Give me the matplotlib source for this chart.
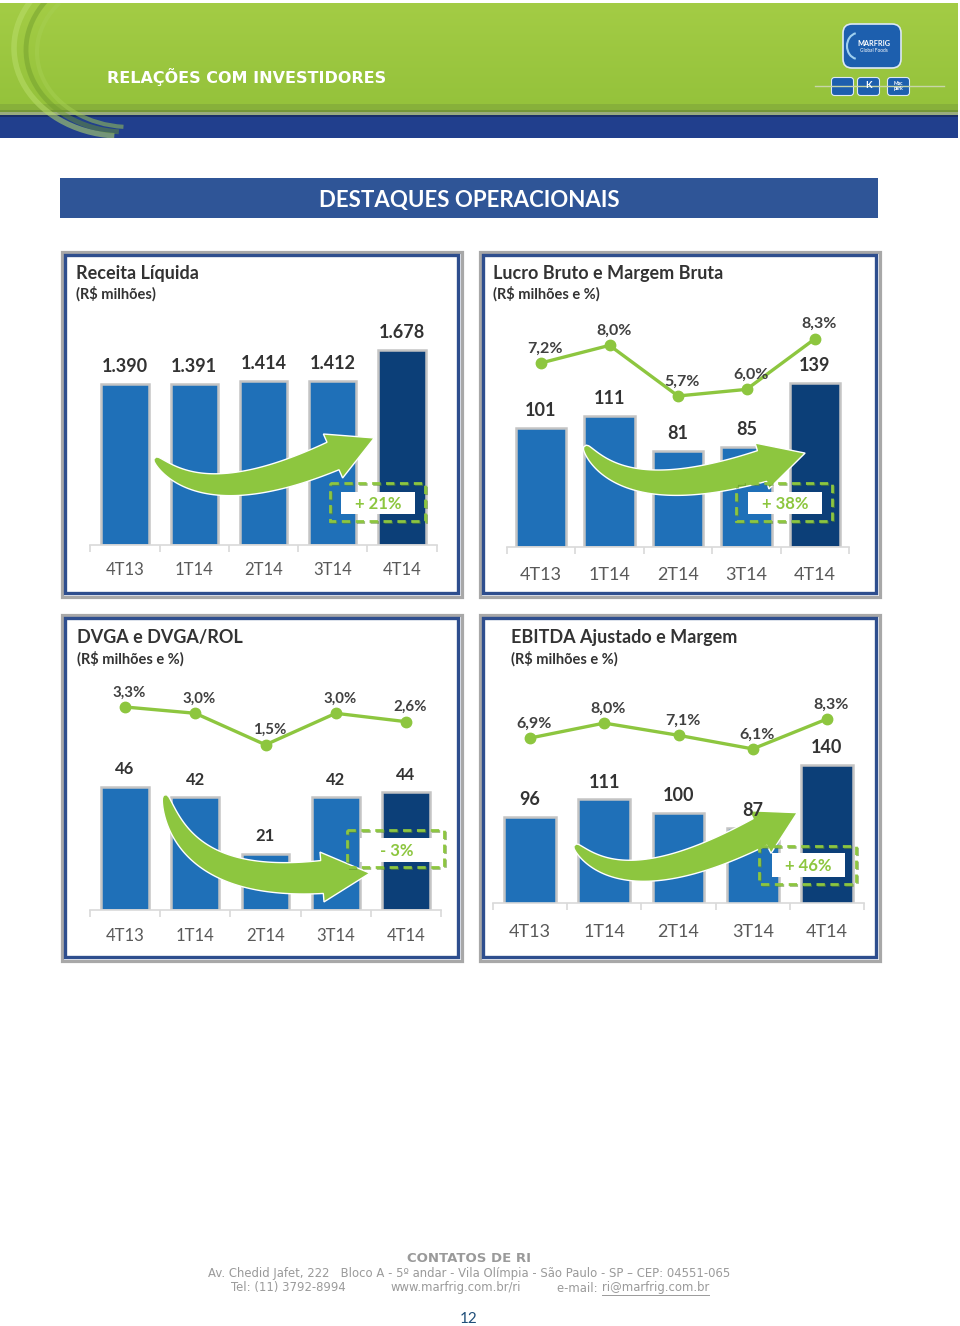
import numpy as np
import matplotlib

matplotlib.use("Agg")
import matplotlib.pyplot as plt
from matplotlib.patches import Rectangle, Polygon, FancyBboxPatch, Arc

plt.rcParams["font.family"] = ["Lato", "DejaVu Sans"]

W, H = 960, 1326

# --- dados ---
quarters = ["4T13", "1T14", "2T14", "3T14", "4T14"]
receita = [1390, 1391, 1414, 1412, 1678]
lucro_bruto = [101, 111, 81, 85, 139]
margem_bruta = [7.2, 8.0, 5.7, 6.0, 8.3]
dvga = [46, 42, 21, 42, 44]
dvga_rol = [3.3, 3.0, 1.5, 3.0, 2.6]
ebitda = [96, 111, 100, 87, 140]
margem_ebitda = [6.9, 8.0, 7.1, 6.1, 8.3]
variacao = ["+ 21%", "+ 38%", "- 3%", "+ 46%"]

BAR = "#1F70B8"
BAR_LAST = "#0C3F78"
GREEN = "#8DC63F"
FRAME_BLUE = "#2E4E8E"
FRAME_GRAY = "#A8A8A8"
TXT = "#333333"
TICK = "#595959"


def px_rect(x0, y0, x1, y1):
    return [x0 / W, 1 - y1 / H, (x1 - x0) / W, (y1 - y0) / H]


def fmt_milhar(v):
    return f"{v:,}".replace(",", ".")


def fmt_pct(v):
    return f"{v:.1f}%".replace(".", ",")


fig = plt.figure(figsize=(W / 100, H / 100), dpi=100)
canvas = fig.add_axes([0, 0, 1, 1], zorder=0)
canvas.set_xlim(0, W)
canvas.set_ylim(H, 0)
canvas.axis("off")

overlay = fig.add_axes([0, 0, 1, 1], zorder=6)
overlay.set_xlim(0, W)
overlay.set_ylim(H, 0)
overlay.axis("off")
overlay.patch.set_alpha(0)

# --- cabeçalho ---
grad = np.linspace(0, 1, 100)[:, None]
green_top = np.array([0.64, 0.80, 0.27])
green_bot = np.array([0.58, 0.76, 0.23])
img = green_top + (green_bot - green_top) * grad[..., None]
canvas.imshow(img, extent=[0, 958, 112, 3], aspect="auto", zorder=0)
canvas.add_patch(Rectangle((0, 104), 958, 12, color="#6F8F3A", alpha=0.35, lw=0))
canvas.add_patch(Rectangle((0, 110), 958, 6, color="#5F7B35", alpha=0.45, lw=0))
canvas.add_patch(Rectangle((0, 115), 958, 23, color="#213F8D", lw=0))
canvas.add_patch(Rectangle((0, 115), 958, 2, color="#1A2F66", lw=0))
header_clip = Rectangle((0, 3), 958, 135, transform=canvas.transData)
for (cx, cy, ww, hh, col, a, lw) in [(122, 48, 216, 176, "#B9DD6A", 0.55, 4),
                                     (126, 50, 200, 164, "#6E9A2C", 0.45, 3.5),
                                     (130, 52, 186, 150, "#A6CF52", 0.5, 3)]:
    arc = Arc((cx, cy), ww, hh, theta1=95, theta2=215, color=col, alpha=a, lw=lw)
    canvas.add_patch(arc)
    arc.set_clip_path(header_clip)
canvas.text(107, 77, "RELAÇÕES COM INVESTIDORES", color="white",
            fontsize=11.5, fontweight="bold", va="center", ha="left",
            family=["DejaVu Sans"])

# logo (aproximado)
canvas.add_patch(FancyBboxPatch((845, 26), 54, 40, boxstyle="round,pad=2,rounding_size=9",
                                fc="#1D5FAE", ec="#DDE8F5", lw=1.2))
canvas.add_patch(Arc((858, 46), 22, 26, theta1=100, theta2=260, color="#9FD0F0", lw=1.5))
canvas.text(874, 43, "MARFRIG", color="white", fontsize=5.2, fontweight="bold",
            ha="center", va="center")
canvas.text(874, 51, "Global Foods", color="white", fontsize=3.4,
            ha="center", va="center")
canvas.plot([815, 944], [86, 86], color="#C8D6A8", lw=1)
for xi in (832, 858, 888):
    canvas.add_patch(FancyBboxPatch((xi, 78), 21, 17, boxstyle="round,pad=0.5,rounding_size=3",
                                    fc="#1D5FAE", ec="#DDE8F5", lw=0.8))
canvas.text(868.5, 86, "K", color="white", fontsize=7, fontweight="bold",
            ha="center", va="center")
canvas.text(898.5, 86, "Mac\npark", color="white", fontsize=3.6, fontweight="bold",
            ha="center", va="center", linespacing=0.9)

# --- faixa de título ---
canvas.add_patch(Rectangle((60, 178), 818, 40, color="#2F5597", lw=0))
canvas.text(469, 200, "DESTAQUES OPERACIONAIS", color="white", fontsize=16,
            fontweight="bold", ha="center", va="center")


def frame(x0, y0, x1, y1):
    canvas.add_patch(Rectangle((x0 + 1.5, y0 + 1.5), x1 - x0 - 3, y1 - y0 - 3,
                               fill=False, ec=FRAME_GRAY, lw=2.3))
    canvas.add_patch(Rectangle((x0 + 5, y0 + 5), x1 - x0 - 10, y1 - y0 - 10,
                               fill=False, ec=FRAME_BLUE, lw=2.4))


def curved_arrow(ax, p0, c, b, w0, w1, head_w, head_l):
    p0, c, b = np.array(p0, float), np.array(c, float), np.array(b, float)
    t = np.linspace(0, 1, 80)[:, None]
    pts = (1 - t) ** 2 * p0 + 2 * (1 - t) * t * c + t ** 2 * b
    d = 2 * (1 - t) * (c - p0) + 2 * t * (b - c)
    d = d / np.linalg.norm(d, axis=1, keepdims=True)
    n = np.column_stack([-d[:, 1], d[:, 0]])
    w = (w0 + (w1 - w0) * np.sqrt(t))
    left = pts + n * w / 2
    right = pts - n * w / 2
    de = (b - c) / np.linalg.norm(b - c)
    ne = np.array([-de[1], de[0]])
    tip = b + de * head_l
    poly = np.vstack([left, [b + ne * head_w / 2, tip, b - ne * head_w / 2], right[::-1]])
    ax.add_patch(Polygon(poly, closed=True, fc=GREEN, ec="white", lw=1.0,
                         transform=canvas.transData, clip_on=False, zorder=2.5))


def pct_box(x0, y0, x1, y1, bx0, by0, bx1, by1, text):
    overlay.add_patch(Rectangle((x0, y0), x1 - x0, y1 - y0, fill=False,
                                ec="#5F8F2A", lw=2.0, ls=(0, (3, 2)), alpha=0.6))
    overlay.add_patch(Rectangle((x0 - 1, y0 - 1), x1 - x0, y1 - y0, fill=False,
                                ec=GREEN, lw=2.0, ls=(0, (3, 2))))
    overlay.add_patch(Rectangle((bx0, by0), bx1 - bx0, by1 - by0, fc="white", lw=0))
    overlay.text((bx0 + bx1) / 2, (by0 + by1) / 2 + 1, text, color=GREEN,
                 fontsize=12, fontweight="bold", ha="center", va="center")


def chart(rect, ylim, values, labels, width, cat_fs, val_fs, tick_pad,
          line=None, line_ylim=None, pct_fs=10):
    ax = fig.add_axes(px_rect(*rect), zorder=2)
    ax.patch.set_alpha(0)
    colors = [BAR] * (len(values) - 1) + [BAR_LAST]
    x = np.arange(len(values))
    ax.bar(x, values, width=width, color=colors, edgecolor="#C4C4C4",
           linewidth=1.8, zorder=1)
    ax.set_xlim(-0.5, len(values) - 0.5)
    ax.set_ylim(*ylim)
    for s in ("top", "left", "right"):
        ax.spines[s].set_visible(False)
    ax.spines["bottom"].set_color("#D9D9D9")
    ax.spines["bottom"].set_linewidth(1.2)
    ax.set_yticks([])
    ax.set_xticks(x)
    ax.set_xticklabels(quarters, fontsize=cat_fs, color=TICK)
    ax.set_xticks(np.arange(-0.5, len(values), 1), minor=True)
    ax.tick_params(axis="x", which="major", length=0, pad=tick_pad)
    ax.tick_params(axis="x", which="minor", length=5, color="#D9D9D9", width=1.2)
    for i, (v, lab) in enumerate(zip(values, labels)):
        ax.annotate(lab, (i, v), xytext=(0, 12.5), textcoords="offset points",
                    ha="center", va="center", fontsize=val_fs,
                    fontweight="bold", color=TXT, zorder=4)
    if line is not None:
        ax2 = ax.twinx()
        ax2.set_zorder(3)
        ax2.patch.set_alpha(0)
        ax2.plot(x, line, color=GREEN, lw=2.4, marker="o", ms=7.5)
        ax2.set_ylim(*line_ylim)
        ax2.axis("off")
        for i, m in enumerate(line):
            ax2.annotate(fmt_pct(m), (i, m), xytext=(3, 10.5), textcoords="offset points",
                         ha="center", va="center", fontsize=pct_fs,
                         fontweight="bold", color="#404040")
    return ax


# --- painel 1: Receita Líquida ---
frame(60, 250, 463, 598)
canvas.text(76, 273, "Receita Líquida", fontsize=13, fontweight="bold",
            color=TXT, va="center")
canvas.text(76, 294, "(R$ milhões)", fontsize=10.5, fontweight="bold",
            color=TXT, va="center")
ax1 = chart((90.4, 300, 436.6, 545), (0, 2112), receita,
            [fmt_milhar(v) for v in receita], 0.68, 12, 13, 12.5)
curved_arrow(ax1, (155, 458), (205, 512), (333, 456), 3, 30, 48, 45)
pct_box(331, 484, 426, 522, 341, 492, 415, 514, variacao[0])

# --- painel 2: Lucro Bruto ---
frame(478, 250, 881, 598)
canvas.text(493, 273, "Lucro Bruto e Margem Bruta", fontsize=13,
            fontweight="bold", color=TXT, va="center")
canvas.text(493, 294, "(R$ milhões e %)", fontsize=10.5, fontweight="bold",
            color=TXT, va="center")
ax2 = chart((506.75, 300, 849.25, 547), (0, 209), lucro_bruto,
            [str(v) for v in lucro_bruto], 0.73, 13, 13, 14.5,
            line=margem_bruta, line_ylim=(-1.16, 10.06), pct_fs=11.5)
curved_arrow(ax2, (585, 446), (625, 507), (762, 466), 3, 32, 48, 45)
pct_box(737, 484, 833, 522, 748, 492, 822, 514, variacao[1])

# --- painel 3: DVGA ---
frame(60, 613, 463, 962)
canvas.text(77, 637, "DVGA e DVGA/ROL", fontsize=13, fontweight="bold",
            color=TXT, va="center")
canvas.text(77, 659, "(R$ milhões e %)", fontsize=10.5, fontweight="bold",
            color=TXT, va="center")
ax3 = chart((89.9, 665, 441.1, 910), (0, 91.4), dvga,
            [str(v) for v in dvga], 0.68, 12, 12, 13,
            line=dvga_rol, line_ylim=(-6.37, 5.3), pct_fs=10.8)
curved_arrow(ax3, (165, 795), (185, 888), (322, 877), 3, 33, 50, 48)
pct_box(348, 831, 445, 868, 360, 838, 434, 862, variacao[2])

# --- painel 4: EBITDA ---
frame(478, 613, 881, 962)
canvas.text(511, 637, "EBITDA Ajustado e Margem", fontsize=13,
            fontweight="bold", color=TXT, va="center")
canvas.text(511, 659, "(R$ milhões e %)", fontsize=10.5, fontweight="bold",
            color=TXT, va="center")
ax4 = chart((492.9, 665, 864.1, 903), (24, 224), ebitda,
            [str(v) for v in ebitda], 0.70, 13, 13, 15,
            line=margem_ebitda, line_ylim=(-5.23, 12.27), pct_fs=11.5)
curved_arrow(ax4, (575, 845), (625, 902), (760, 832), 3, 30, 48, 42)
pct_box(760, 847, 857, 885, 772, 853, 845, 877, variacao[3])

# --- rodapé ---
FOOT = "#9A9A9A"
FS = 8.4
canvas.text(469, 1259, "CONTATOS DE RI", color=FOOT, fontsize=9.5,
            fontweight="bold", ha="center", va="center", family=["DejaVu Sans"])
canvas.text(469, 1274,
            "Av. Chedid Jafet, 222   Bloco A - 5º andar - Vila Olímpia - São Paulo - SP – CEP: 04551-065",
            color=FOOT, fontsize=FS, ha="center", va="center", family=["DejaVu Sans"])
canvas.text(231, 1288, "Tel: (11) 3792-8994", color=FOOT, fontsize=FS,
            ha="left", va="center", family=["DejaVu Sans"])
canvas.text(391, 1288, "www.marfrig.com.br/ri", color=FOOT, fontsize=FS,
            ha="left", va="center", family=["DejaVu Sans"])
canvas.text(557, 1288, "e-mail: ", color=FOOT, fontsize=FS,
            ha="left", va="center", family=["DejaVu Sans"])
email = canvas.text(602, 1288, "ri@marfrig.com.br", color=FOOT, fontsize=FS,
                    ha="left", va="center", family=["DejaVu Sans"])
fig.canvas.draw()
bb = email.get_window_extent().transformed(canvas.transData.inverted())
canvas.plot([bb.x0, bb.x1], [1295, 1295], color=FOOT, lw=0.7)
canvas.text(469, 1319, "12", color="#1F4E79", fontsize=11, ha="center",
            va="center")

fig.savefig("out.png", dpi=100)
